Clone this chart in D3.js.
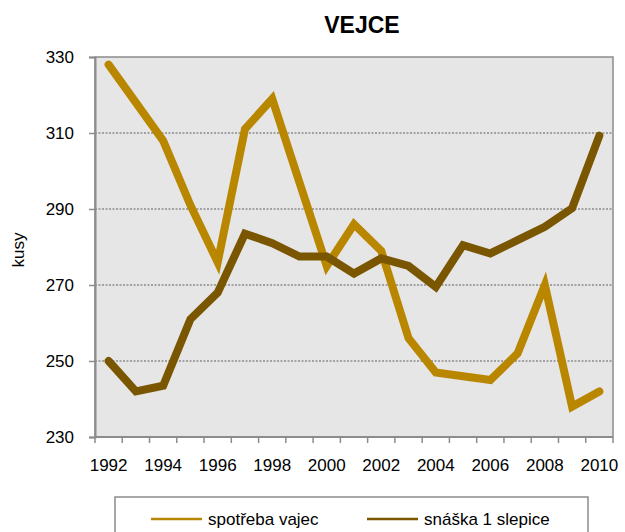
<!DOCTYPE html>
<html>
<head>
<meta charset="utf-8">
<script src="https://cdn.jsdelivr.net/npm/d3@7"></script>
<style>
  body { margin: 0; background: #fff; }
  text { font-family: "Liberation Sans", Arial, sans-serif; }
</style>
</head>
<body>
<script>
const width = 625, height = 532;

const years = d3.range(1992, 2011);
const tickYears = [1992, 1994, 1996, 1998, 2000, 2002, 2004, 2006, 2008, 2010];
const spotreba = [328, 318, 308, 291, 276, 311, 319, 297, 275, 286, 279, 256, 247, 246, 245, 252, 270, 238, 242];
const snaska = [250, 242, 243.5, 261, 268, 283.5, 281, 277.5, 277.5, 273, 277, 275, 269.5, 280.5, 278.3, 281.8, 285.3, 290.2, 309.3];
const yTicks = [230, 250, 270, 290, 310, 330];
const seriesNames = ['spotřeba vajec', 'snáška 1 slepice'];
const colors = ['#B98600', '#7A5600'];

const plot = { left: 95, right: 613, top: 57, bottom: 437 };
const fontSize = 17;

const svg = d3.select('body').append('svg')
  .attr('width', width).attr('height', height);

const x = d3.scaleBand().domain(years).range([plot.left, plot.right]);
const y = d3.scaleLinear().domain([230, 330]).range([plot.bottom, plot.top]);

// plot background
svg.append('rect')
  .attr('x', plot.left).attr('y', plot.top)
  .attr('width', plot.right - plot.left).attr('height', plot.bottom - plot.top)
  .attr('fill', '#E6E6E6')
  .attr('stroke', '#8C8C8C').attr('stroke-width', 1.5);

// grid
svg.append('g')
  .selectAll('line')
  .data(yTicks.slice(1, -1))
  .join('line')
  .attr('x1', plot.left).attr('x2', plot.right)
  .attr('y1', d => y(d)).attr('y2', d => y(d))
  .attr('stroke', '#8C8C8C').attr('stroke-width', 1.5)
  .attr('stroke-dasharray', '2,1.5');

// y axis
const yAxis = svg.append('g')
  .attr('transform', `translate(${plot.left},0)`)
  .call(d3.axisLeft(y).tickValues(yTicks).tickSize(6).tickPadding(15));
yAxis.select('.domain').attr('stroke', '#8C8C8C').attr('stroke-width', 2);
yAxis.selectAll('.tick line').attr('stroke', '#8C8C8C').attr('stroke-width', 1.5);
yAxis.selectAll('.tick text')
  .attr('font-size', fontSize).attr('fill', '#000')
  .style('font-family', '"Liberation Sans", Arial, sans-serif');

// x axis: ticks between categories, labels every second year
const xAxis = svg.append('g')
  .attr('transform', `translate(0,${plot.bottom})`);
xAxis.append('line')
  .attr('x1', plot.left).attr('x2', plot.right)
  .attr('stroke', '#8C8C8C').attr('stroke-width', 2);
xAxis.selectAll('.tk')
  .data(years.concat([2011]))
  .join('line')
  .attr('class', 'tk')
  .attr('x1', d => d === 2011 ? plot.right : x(d))
  .attr('x2', d => d === 2011 ? plot.right : x(d))
  .attr('y1', 0).attr('y2', 6)
  .attr('stroke', '#8C8C8C').attr('stroke-width', 1.5);
xAxis.selectAll('text')
  .data(tickYears)
  .join('text')
  .attr('x', d => x(d) + x.bandwidth() / 2)
  .attr('y', 34)
  .attr('text-anchor', 'middle')
  .attr('font-size', fontSize)
  .text(d => d);

// lines
const line = d3.line()
  .x((d, i) => x(years[i]) + x.bandwidth() / 2)
  .y(d => y(d));

[spotreba, snaska].forEach((s, i) => {
  svg.append('path')
    .datum(s)
    .attr('d', line)
    .attr('fill', 'none')
    .attr('stroke', colors[i])
    .attr('stroke-width', 8)
    .attr('stroke-linejoin', 'miter')
    .attr('stroke-linecap', 'round');
});

// title
svg.append('text')
  .attr('x', 362).attr('y', 33)
  .attr('text-anchor', 'middle')
  .attr('font-size', 23).attr('font-weight', 'bold')
  .text('VEJCE');

// y label
svg.append('text')
  .attr('transform', 'translate(24,250) rotate(-90)')
  .attr('text-anchor', 'middle')
  .attr('font-size', fontSize)
  .text('kusy');

// legend
svg.append('rect')
  .attr('x', 115).attr('y', 497)
  .attr('width', 473).attr('height', 50)
  .attr('fill', '#fff')
  .attr('stroke', '#8C8C8C').attr('stroke-width', 1.5);

const legendX = [151, 367];
seriesNames.forEach((name, i) => {
  svg.append('line')
    .attr('x1', legendX[i]).attr('x2', legendX[i] + 51)
    .attr('y1', 519).attr('y2', 519)
    .attr('stroke', colors[i]).attr('stroke-width', 2.5);
  svg.append('text')
    .attr('x', legendX[i] + 57).attr('y', 525)
    .attr('font-size', fontSize)
    .text(name);
});
</script>
</body>
</html>
